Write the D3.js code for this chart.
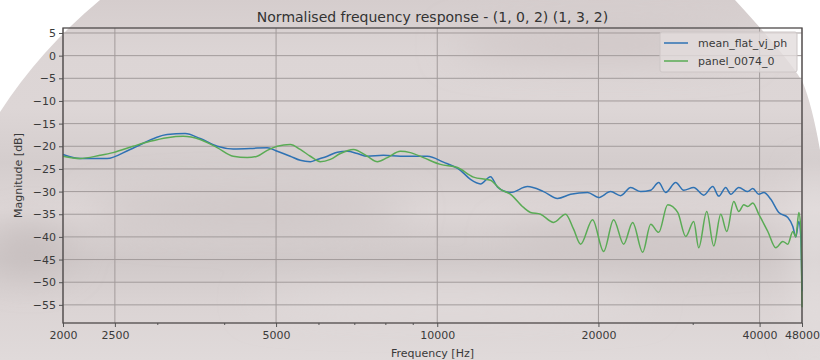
<!DOCTYPE html>
<html>
<head>
<meta charset="utf-8">
<script src="https://cdn.jsdelivr.net/npm/d3@7"></script>
<style>
  body { margin: 0; background: #fff; }
  svg { display: block; font-family: "DejaVu Sans", sans-serif; }
</style>
</head>
<body>
<svg id="chart" width="820" height="360"></svg>
<script>
// frequency response (Hz, dB)
const meanFreq = [2000, 2152, 2417, 2669, 3130, 3382, 3607, 3881, 4158, 4474, 4814, 5026, 5314, 5548, 5793, 5970, 6233, 6507, 6793, 7092, 7404, 7932, 8534, 8909, 9586, 10270, 11049, 11536, 12044, 12574, 12959, 13705, 14745, 15797, 16777, 17743, 19089, 20016, 21078, 22006, 22974, 23986, 25040, 25918, 26710, 27886, 28862, 30130, 31456, 32700, 33554, 34580, 35334, 36570, 38016, 38844, 39860, 40726, 41974, 43444, 45160, 46144, 46744, 47350, 47758, 48000];
const meanDb = [-21.8, -22.7, -22.7, -20.7, -17.4, -17.2, -18.3, -20.0, -20.6, -20.5, -20.3, -21.1, -22.2, -23.1, -23.4, -22.9, -22.2, -21.3, -21.1, -21.6, -22.2, -22.0, -22.2, -22.2, -22.2, -23.5, -25.3, -27.3, -28.3, -26.7, -29.0, -30.2, -28.9, -30.0, -31.5, -30.6, -30.2, -31.3, -30.0, -30.9, -29.1, -30.0, -29.7, -28.0, -30.2, -28.0, -29.7, -29.1, -30.8, -28.9, -31.0, -29.1, -30.6, -29.1, -30.0, -29.3, -30.6, -30.2, -31.7, -34.6, -35.7, -37.7, -40.0, -36.6, -40.0, -52.0];

const panelFreq = [2000, 2152, 2345, 2480, 2704, 2909, 3130, 3353, 3607, 3881, 4158, 4416, 4611, 4814, 5026, 5314, 5548, 5793, 6048, 6314, 6592, 6971, 7404, 7730, 8069, 8534, 8909, 9423, 10138, 10907, 11686, 12574, 13128, 13705, 14493, 14936, 15594, 16491, 17365, 17974, 18523, 19504, 20452, 21352, 22292, 23174, 24194, 25040, 25918, 26942, 28126, 29112, 30130, 30786, 31864, 32840, 33844, 34728, 35792, 36570, 37366, 38016, 38844, 39860, 41436, 42888, 44198, 45160, 46144, 46744, 47350, 47758, 48000];
const panelDb = [-22.2, -22.7, -22.0, -21.4, -20.0, -18.9, -18.1, -17.8, -18.5, -20.3, -22.2, -22.5, -22.2, -20.9, -20.0, -19.6, -20.7, -22.2, -23.4, -22.9, -21.6, -20.7, -22.2, -23.4, -22.5, -21.1, -21.4, -22.5, -24.0, -24.7, -26.8, -27.5, -29.5, -30.6, -33.5, -34.6, -35.0, -36.8, -35.0, -38.3, -41.6, -36.2, -43.2, -36.2, -41.6, -36.8, -43.4, -37.2, -39.0, -32.9, -34.6, -39.9, -36.6, -42.4, -34.4, -42.0, -35.0, -38.8, -32.2, -34.4, -32.9, -33.3, -32.5, -35.0, -38.8, -42.4, -41.0, -41.6, -38.8, -40.0, -34.6, -38.3, -55.5];

const seriesNames = ["mean_flat_vj_ph", "panel_0074_0"];
const seriesColors = ["#2f72b3", "#5aab55"];

const xMajorTicks = [2000, 2500, 5000, 10000, 20000, 40000, 48000];
const xMinorTicks = [3000, 4000, 6000, 7000, 8000, 9000, 30000];
const yTicks = [5, 0, -5, -10, -15, -20, -25, -30, -35, -40, -45, -50, -55];

const margin = { top: 28, right: 18, bottom: 37, left: 63 };
const width = 820 - margin.left - margin.right;
const height = 360 - margin.top - margin.bottom;

const svg = d3.select("#chart");
const defs = svg.append("defs");

// textured grey backdrop
const bg = defs.append("linearGradient")
  .attr("id", "bgGrad")
  .attr("x1", 0).attr("y1", 0).attr("x2", 0).attr("y2", 1);
[[0, "#d5cdcd"], [0.15, "#dcd5d5"], [0.3, "#ddd6d6"], [0.45, "#d4cdcd"], [0.58, "#ddd6d6"],
 [0.72, "#d0c9c9"], [0.85, "#dbd4d4"], [1, "#e0dada"]]
  .forEach(s => bg.append("stop").attr("offset", s[0]).attr("stop-color", s[1]));

defs.append("filter").attr("id", "blur")
  .attr("x", "-50%").attr("y", "-50%").attr("width", "200%").attr("height", "200%")
  .append("feGaussianBlur").attr("stdDeviation", 18);

svg.append("rect").attr("width", 820).attr("height", 360).attr("fill", "url(#bgGrad)");

const blobs = svg.append("g").attr("filter", "url(#blur)");
blobs.append("ellipse").attr("cx", 600).attr("cy", 45).attr("rx", 150).attr("ry", 14).attr("fill", "#cdc4c4");
blobs.append("ellipse").attr("cx", 250).attr("cy", 210).attr("rx", 160).attr("ry", 16).attr("fill", "#cbc3c3");
blobs.append("ellipse").attr("cx", 640).attr("cy", 240).attr("rx", 140).attr("ry", 14).attr("fill", "#cdc5c5");
blobs.append("ellipse").attr("cx", 30).attr("cy", 250).attr("rx", 40).attr("ry", 22).attr("fill", "#c6bebe");
blobs.append("ellipse").attr("cx", 450).attr("cy", 300).attr("rx", 200).attr("ry", 10).attr("fill", "#e4dfdf");
blobs.append("ellipse").attr("cx", 815).attr("cy", 260).attr("rx", 14).attr("ry", 90).attr("fill", "#e6e1e1");

// white corners of the backdrop
svg.append("path")
  .attr("d", "M0,0 L100,0 Q40,50 0,112 Z")
  .attr("fill", "#ffffff");
svg.append("path")
  .attr("d", "M735,0 L820,0 L820,150 Q812,105 803,83 Q792,62 735,0 Z")
  .attr("fill", "#ffffff");

const g = svg.append("g")
  .attr("transform", `translate(${margin.left},${margin.top})`);

const x = d3.scaleLog()
  .domain([2000, 48000])
  .range([0, width]);

const y = d3.scaleLinear()
  .domain([-59, 6.1])
  .range([height, 0]);

// grid
g.append("g")
  .selectAll("line")
  .data(yTicks)
  .join("line")
  .attr("x1", 0).attr("x2", width)
  .attr("y1", d => y(d)).attr("y2", d => y(d))
  .attr("stroke", "#a29b9b")
  .attr("stroke-width", 1);

g.append("g")
  .selectAll("line")
  .data(xMajorTicks)
  .join("line")
  .attr("x1", d => x(d)).attr("x2", d => x(d))
  .attr("y1", 0).attr("y2", height)
  .attr("stroke", "#a29b9b")
  .attr("stroke-width", 1);

// lines
const line = d3.line()
  .x(d => x(d[0]))
  .y(d => y(d[1]))
  .curve(d3.curveMonotoneX);

const series = [
  d3.zip(meanFreq, meanDb),
  d3.zip(panelFreq, panelDb)
];

g.selectAll(".line")
  .data(series)
  .join("path")
  .attr("class", "line")
  .attr("d", line)
  .attr("fill", "none")
  .attr("stroke", (d, i) => seriesColors[i])
  .attr("stroke-width", 1.5);

// axes
g.append("g")
  .attr("transform", `translate(0,${height})`)
  .call(d3.axisBottom(x).tickValues(xMajorTicks).tickFormat(d3.format("d")).tickSize(4).tickPadding(4));

g.append("g")
  .attr("transform", `translate(0,${height})`)
  .call(d3.axisBottom(x).tickValues(xMinorTicks).tickFormat("").tickSize(2))
  .call(a => a.select(".domain").remove());

g.append("g")
  .call(d3.axisLeft(y).tickValues(yTicks).tickFormat(d => d < 0 ? "\u2212" + Math.abs(d) : d).tickSize(4).tickPadding(3));

svg.selectAll(".tick line").attr("stroke", "#555");
svg.selectAll(".tick text").attr("fill", "#3a3a3a").attr("font-size", 11).attr("font-family", "DejaVu Sans");
svg.selectAll(".domain").attr("stroke", "none");

g.append("rect")
  .attr("width", width).attr("height", height)
  .attr("fill", "none")
  .attr("stroke", "#4f4b4b")
  .attr("stroke-width", 1.3);

// labels
svg.append("text")
  .attr("x", margin.left + width / 2).attr("y", 22)
  .attr("text-anchor", "middle")
  .attr("font-size", 14).attr("fill", "#333")
  .text("Normalised frequency response - (1, 0, 2) (1, 3, 2)");

svg.append("text")
  .attr("x", margin.left + width / 2).attr("y", 357)
  .attr("text-anchor", "middle")
  .attr("font-size", 11).attr("fill", "#3a3a3a")
  .text("Frequency [Hz]");

svg.append("text")
  .attr("transform", `translate(22,${margin.top + height / 2}) rotate(-90)`)
  .attr("text-anchor", "middle")
  .attr("font-size", 11).attr("fill", "#3a3a3a")
  .text("Magnitude [dB]");

// legend
const legend = svg.append("g").attr("transform", "translate(660,32)");
legend.append("rect")
  .attr("width", 137).attr("height", 40).attr("rx", 2)
  .attr("fill", "#e2dcdc").attr("fill-opacity", 0.8)
  .attr("stroke", "#cdc6c6");
seriesNames.forEach((name, i) => {
  legend.append("line")
    .attr("x1", 4).attr("x2", 28)
    .attr("y1", 11 + i * 18).attr("y2", 11 + i * 18)
    .attr("stroke", seriesColors[i]).attr("stroke-width", 1.5);
  legend.append("text")
    .attr("x", 38).attr("y", 15 + i * 18)
    .attr("font-size", 11).attr("fill", "#3a3a3a")
    .text(name);
});
</script>
</body>
</html>
